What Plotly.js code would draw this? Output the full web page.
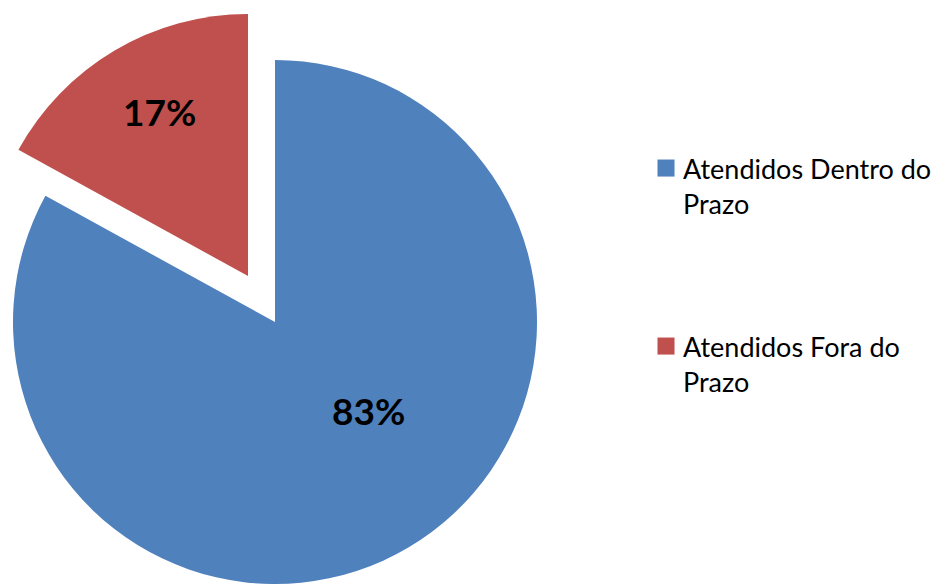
<!DOCTYPE html>
<html>
<head>
<meta charset="utf-8">
<script src="https://cdn.plot.ly/plotly-3.0.1.min.js"></script>
<style>
html, body { margin: 0; padding: 0; overflow: hidden; background: #fff; }
#chart { position: absolute; left: -20px; top: 0; width: 953px; height: 584px; }
</style>
</head>
<body>
<div id="chart"></div>
<script>
// ---- data ----
const labels = ['Atendidos Dentro do<br>Prazo', 'Atendidos Fora do<br>Prazo'];
const values = [83, 17];
const colors = ['#4F81BD', '#C0504D'];
const transparent = 'rgba(0,0,0,0)';

const labelFont = { family: 'Lato, "Open Sans", sans-serif', size: 37, color: '#000', weight: 'bold' };
const legendFont = { family: 'Lato, "Open Sans", sans-serif', size: 27, color: '#000' };

// legend-only traces (tiny, hidden beneath the main pie)
const legendTrace1 = {
  type: 'pie', labels: [labels[0]], values: [values[0]],
  marker: { colors: [colors[0]] }, sort: false, textposition: 'none', hoverinfo: 'skip',
  domain: { x: [0.30, 0.3001], y: [0.45, 0.4501] }, legend: 'legend'
};
const legendTrace2 = {
  type: 'pie', labels: [labels[1]], values: [values[1]],
  marker: { colors: [colors[1]] }, sort: false, textposition: 'none', hoverinfo: 'skip',
  domain: { x: [0.30, 0.3001], y: [0.45, 0.4501] }, legend: 'legend2'
};

const NB = '\u00A0';
// main (blue) slice, unexploded
const mainPie = {
  type: 'pie', labels: labels, values: values, sort: false,
  direction: 'clockwise', rotation: 0,
  marker: { colors: [colors[0], transparent], line: { width: 0 } },
  texttemplate: [NB.repeat(6) + '%{percent}<br>' + NB, '%{percent}'],
  textposition: ['inside', 'none'], insidetextorientation: 'horizontal',
  textfont: labelFont, showlegend: false, hoverinfo: 'label+percent',
  domain: { x: [20 / 953, 570 / 953], y: [0, 524 / 584] }
};

// exploded (red) slice
const explodedPie = {
  type: 'pie', labels: labels, values: values, sort: false,
  direction: 'clockwise', rotation: 0,
  marker: { colors: [transparent, colors[1]], line: { width: 0 } },
  texttemplate: ['%{percent}', '%{percent}<br><sup>' + NB + '</sup>'],
  textposition: ['none', 'inside'], insidetextorientation: 'horizontal',
  textfont: labelFont, showlegend: false, hoverinfo: 'label+percent',
  domain: { x: [0, 536 / 953], y: [1 - 538 / 584, 1 - 14 / 584] }
};

const layout = {
  width: 953, height: 584,
  margin: { l: 0, r: 0, t: 0, b: 0, autoexpand: false },
  paper_bgcolor: '#fff', plot_bgcolor: '#fff',
  showlegend: true,
  legend: { x: 663 / 953, y: 1 - 144 / 584, xanchor: 'left', yanchor: 'top', valign: 'top',
            font: legendFont, bgcolor: 'rgba(0,0,0,0)' },
  legend2: { x: 663 / 953, y: 1 - 322 / 584, xanchor: 'left', yanchor: 'top', valign: 'top',
             font: legendFont, bgcolor: 'rgba(0,0,0,0)' }
};

Plotly.newPlot('chart', [legendTrace1, legendTrace2, mainPie, explodedPie], layout, { displayModeBar: false, staticPlot: true })
  .then(function () {
    document.querySelectorAll('#chart path.legendpie').forEach(function (p) {
      p.setAttribute('transform', 'translate(23,0) scale(1.42)');
    });
  });
</script>
</body>
</html>
